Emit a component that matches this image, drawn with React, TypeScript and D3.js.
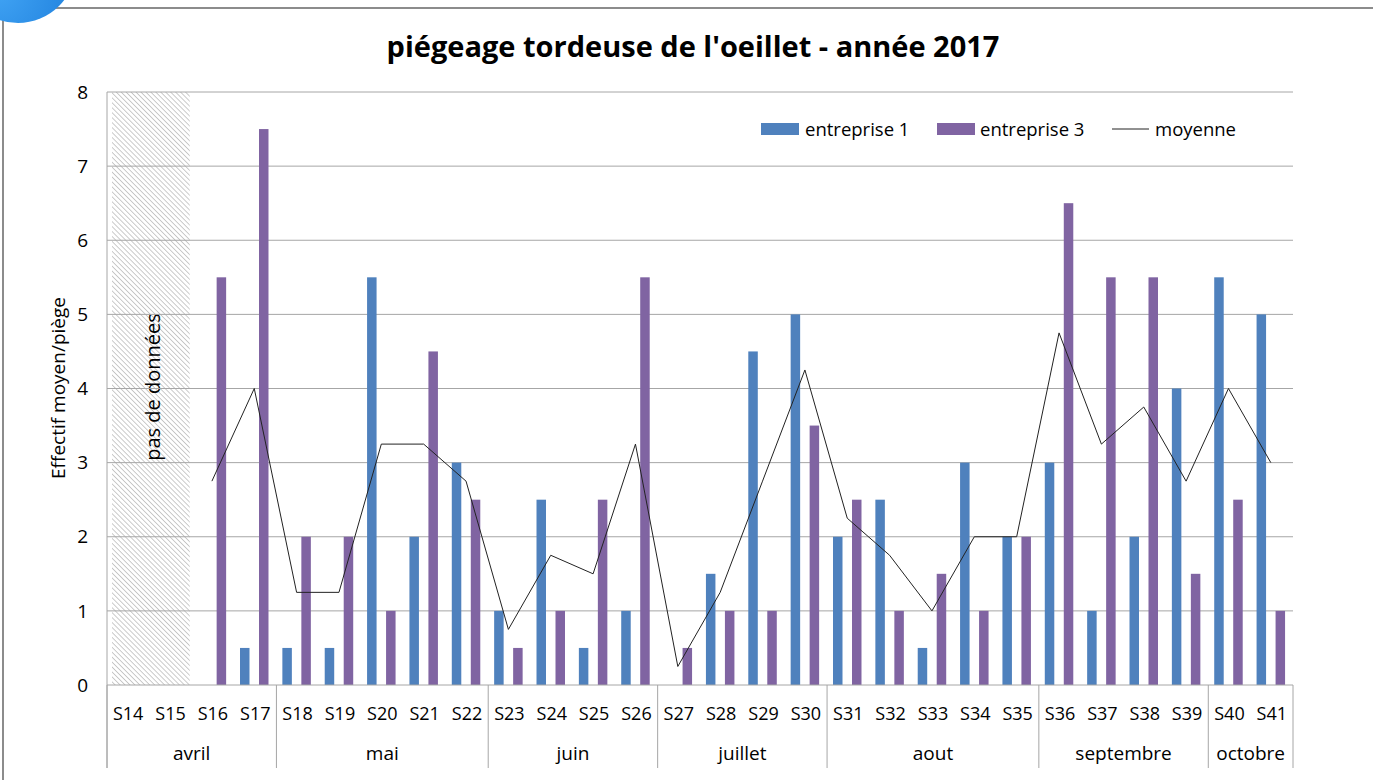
import * as d3 from "d3";

const weeks = ["S14","S15","S16","S17","S18","S19","S20","S21","S22","S23","S24","S25","S26","S27","S28","S29","S30","S31","S32","S33","S34","S35","S36","S37","S38","S39","S40","S41"];
const entreprise1: (number | null)[] = [null,null,0,0.5,0.5,0.5,5.5,2,3,1,2.5,0.5,1,0,1.5,4.5,5,2,2.5,0.5,3,2,3,1,2,4,5.5,5];
const entreprise3: (number | null)[] = [null,null,5.5,7.5,2,2,1,4.5,2.5,0.5,1,2.5,5.5,0.5,1,1,3.5,2.5,1,1.5,1,2,6.5,5.5,5.5,1.5,2.5,1];
const moyenne: (number | null)[] = [null,null,2.75,4,1.25,1.25,3.25,3.25,2.75,0.75,1.75,1.5,3.25,0.25,1.25,2.75,4.25,2.25,1.75,1,2,2,4.75,3.25,3.75,2.75,4,3];
const months = ["avril","mai","juin","juillet","aout","septembre","octobre"];
const monthWeeks = [["S14","S17"],["S18","S22"],["S23","S26"],["S27","S30"],["S31","S35"],["S36","S39"],["S40","S41"]];
const yTicks = [0,1,2,3,4,5,6,7,8];
const noData = ["S14","S15"];

const W = 1373, H = 780;
const left = 107, right = 1293, top = 92, bottom = 685;
const font = "'Open Sans', sans-serif";
const blue = "#4F81BD", purple = "#8064A2", grid = "#a6a6a6";

export default function App() {
  const x0 = d3.scaleBand<string>().domain(weeks).range([left, right]).padding(0);
  const x1 = d3.scaleBand<string>().domain(["e1","e2","e3"]).range([0, x0.bandwidth()]).paddingInner(0).paddingOuter(0.73);
  const y = d3.scaleLinear().domain([0, 8]).range([bottom, top]);
  const cx = (w: string) => x0(w)! + x0.bandwidth() / 2;

  const line = d3.line<[string, number | null]>()
    .defined(d => d[1] !== null)
    .x(d => cx(d[0]) - 1)
    .y(d => y(d[1] as number));

  const bars: { w: string; k: string; v: number; c: string }[] = [];
  weeks.forEach((w, i) => {
    if (entreprise1[i]) bars.push({ w, k: "e1", v: entreprise1[i] as number, c: blue });
    if (entreprise3[i]) bars.push({ w, k: "e3", v: entreprise3[i] as number, c: purple });
  });

  const hatchX0 = x0(noData[0])! + 5;
  const hatchX1 = x0(noData[noData.length - 1])! + x0.bandwidth() - 2;

  const sepX = monthWeeks.map(m => x0(m[0])!).concat([right]);

  return (
    <svg width={W} height={H} style={{ position: "absolute", left: 0, top: 0, background: "#fff" }} fontFamily={font}>
      <defs>
        <pattern id="hatch" width="3.5" height="3.5" patternUnits="userSpaceOnUse" patternTransform="rotate(45)">
          <rect width="3.5" height="3.5" fill="#fff" />
          <line x1="0" y1="0" x2="3.5" y2="0" stroke="#c4c4c4" strokeWidth="1.8" />
        </pattern>
        <radialGradient id="badge" cx="0.3" cy="0.7" r="0.8">
          <stop offset="0" stopColor="#42a5f5" />
          <stop offset="1" stopColor="#1e7fdc" />
        </radialGradient>
      </defs>

      {/* chart frame */}
      <line x1={0} x2={W} y1={8} y2={8} stroke="#8c8c8c" strokeWidth={2} />
      <line x1={3} x2={3} y1={8} y2={H} stroke="#8c8c8c" strokeWidth={2} />
      <circle cx={18} cy={-35} r={58} fill="url(#badge)" />

      <text x={693} y={57} textAnchor="middle" fontSize={29} fontWeight="bold" fill="#000">
        piégeage tordeuse de l'oeillet - année 2017
      </text>

      {/* no data area */}
      <rect x={hatchX0} y={top} width={hatchX1 - hatchX0} height={bottom - top} fill="url(#hatch)" />
      <text transform={`translate(${(hatchX0 + hatchX1) / 2 + 2},${387}) rotate(-90)`} textAnchor="middle" dy="0.35em" fontSize={20} fill="#000">
        pas de données
      </text>

      {/* grid */}
      {yTicks.filter(t => t > 0).map(t => (
        <line key={t} x1={left} x2={right} y1={y(t)} y2={y(t)} stroke={grid} strokeWidth={1} />
      ))}
      {yTicks.map(t => (
        <text key={t} x={88} y={y(t)} dy="0.35em" textAnchor="end" fontSize={19} fill="#000">{t}</text>
      ))}
      <text transform={`translate(58,388) rotate(-90)`} textAnchor="middle" dy="0.35em" fontSize={19} fill="#000">
        Effectif moyen/piège
      </text>

      {/* bars */}
      {bars.map((b, i) => (
        <rect key={i} x={x0(b.w)! + x1(b.k)! - 1} y={y(b.v)} width={x1.bandwidth()} height={bottom - y(b.v)} fill={b.c} />
      ))}

      <path d={line(weeks.map((w, i) => [w, moyenne[i]]))!} fill="none" stroke="#222" strokeWidth={1} />

      {/* category axis */}
      <line x1={left} x2={left} y1={top} y2={768} stroke={grid} strokeWidth={1} />
      <line x1={left} x2={right} y1={bottom} y2={bottom} stroke={grid} strokeWidth={1} />
      {sepX.map((sx, i) => (
        <line key={i} x1={sx} x2={sx} y1={bottom} y2={768} stroke={grid} strokeWidth={1} />
      ))}
      {weeks.map(w => (
        <text key={w} x={cx(w)} y={720} textAnchor="middle" fontSize={18} fill="#000">{w}</text>
      ))}
      {months.map((m, i) => (
        <text key={m} x={(sepX[i] + sepX[i + 1]) / 2} y={760} textAnchor="middle" fontSize={19} fill="#000">{m}</text>
      ))}

      {/* legend */}
      <rect x={761} y={123} width={38} height={12} fill={blue} />
      <text x={805} y={136} fontSize={18.5} fill="#000">entreprise 1</text>
      <rect x={937} y={123} width={38} height={12} fill={purple} />
      <text x={980} y={136} fontSize={18.5} fill="#000">entreprise 3</text>
      <line x1={1112} x2={1149} y1={129} y2={129} stroke="#222" strokeWidth={1} />
      <text x={1155} y={136} fontSize={18.5} fill="#000">moyenne</text>
    </svg>
  );
}
